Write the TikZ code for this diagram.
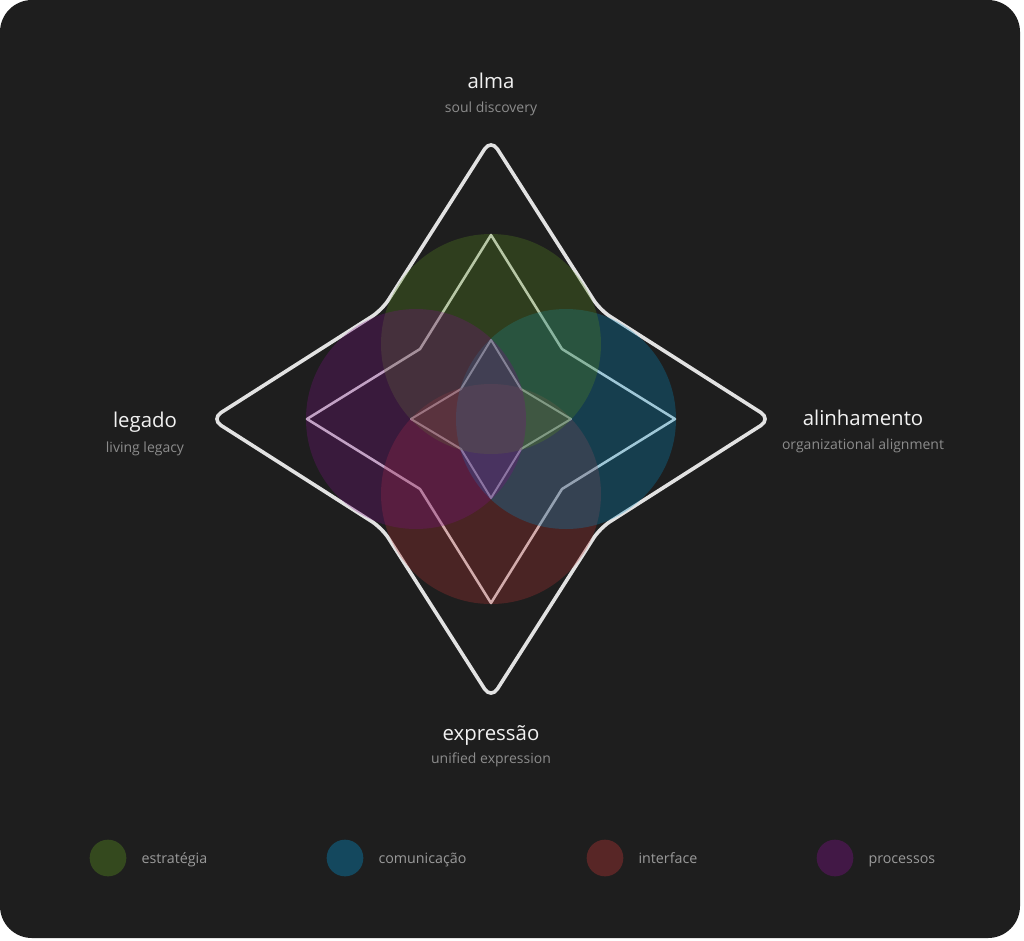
\documentclass[tikz,border=0pt]{standalone}
\usepackage{fontspec}
\setmainfont{Open Sans}
\usepackage{tikz}
\usetikzlibrary{positioning}
\definecolor{Fundo}{HTML}{1E1E1E}
\definecolor{Linha}{HTML}{E2E2E2}
\definecolor{Titulo}{HTML}{F2F2F2}
\definecolor{Sub}{HTML}{8C8C8C}
\definecolor{Legenda}{HTML}{9A9A9A}
\definecolor{Verde}{HTML}{578A1E}
\definecolor{Azul}{HTML}{0689BE}
\definecolor{Vermelho}{HTML}{B03232}
\definecolor{Roxo}{HTML}{7A1182}

\begin{document}
\begin{tikzpicture}[x=0.75pt,y=-0.75pt,
  estrela/.style={draw=Linha,line join=round},
  bolha/.style={fill opacity=0.3},
  titulo/.style={text=Titulo,anchor=base,inner sep=0pt,font=\fontsize{15.3}{18}\selectfont},
  subtitulo/.style={text=Sub,anchor=base,inner sep=0pt,font=\fontsize{10.5}{12}\selectfont},
  marca/.style={circle,inner sep=0pt,minimum size=27.5pt,fill opacity=0.4},
  legenda/.style={text=Legenda,inner sep=0pt,text height=8.5pt,text depth=1pt,font=\fontsize{10.7}{12}\selectfont}]
  \useasboundingbox (0,0) rectangle (1024,940);
  \fill[Fundo,rounded corners=24pt] (0,0) rectangle (1020,938);
  \coordinate (O) at (491,419);

  \draw[estrela,line width=2.7pt,rounded corners=9pt,shift={(O)}] (0,-280) -- (109,-109) -- (280,0) -- (109,109) -- (0,280) -- (-109,109) -- (-280,0) -- (-109,-109) -- cycle;
  \draw[estrela,line width=1.9pt,shift={(O)}] (0,-184) -- (71,-70) -- (184,0) -- (71,70) -- (0,184) -- (-71,70) -- (-184,0) -- (-71,-70) -- cycle;
  \draw[estrela,line width=1.5pt,shift={(O)}] (0,-79) -- (30,-30) -- (80,0) -- (30,30) -- (0,79) -- (-30,30) -- (-80,0) -- (-30,-30) -- cycle;

  \fill[bolha,Vermelho] (O) ++(0,75) circle (110);
  \fill[bolha,Azul] (O) ++(75,0) circle (110);
  \fill[bolha,Verde] (O) ++(0,-75) circle (110);
  \fill[bolha,Roxo] (O) ++(-75,0) circle (110);

  \node[titulo] (alma) at (491,88) {alma};
  \node[subtitulo] (almasub) at (491,112) {soul discovery};
  \node[titulo] (alinhamento) at (863,425) {alinhamento};
  \node[subtitulo] (alinhamentosub) at (863,449) {organizational alignment};
  \node[titulo] (legado) at (145,427) {legado};
  \node[subtitulo] (legadosub) at (145,452) {living legacy};
  \node[titulo] (expressao) at (491,740) {expressão};
  \node[subtitulo] (expressaosub) at (491,763) {unified expression};

  \node[marca,fill=Verde] (lverde) at (108,858) {};
  \node[legenda,right=11pt of lverde] (testrategia) {estratégia};
  \node[marca,fill=Azul] (lazul) at (345,858) {};
  \node[legenda,right=11pt of lazul] (tcomunicacao) {comunicação};
  \node[marca,fill=Vermelho] (lvermelho) at (605,858) {};
  \node[legenda,right=11pt of lvermelho] (tinterface) {interface};
  \node[marca,fill=Roxo] (lroxo) at (835,858) {};
  \node[legenda,right=11pt of lroxo] (tprocessos) {processos};
\end{tikzpicture}
\end{document}
